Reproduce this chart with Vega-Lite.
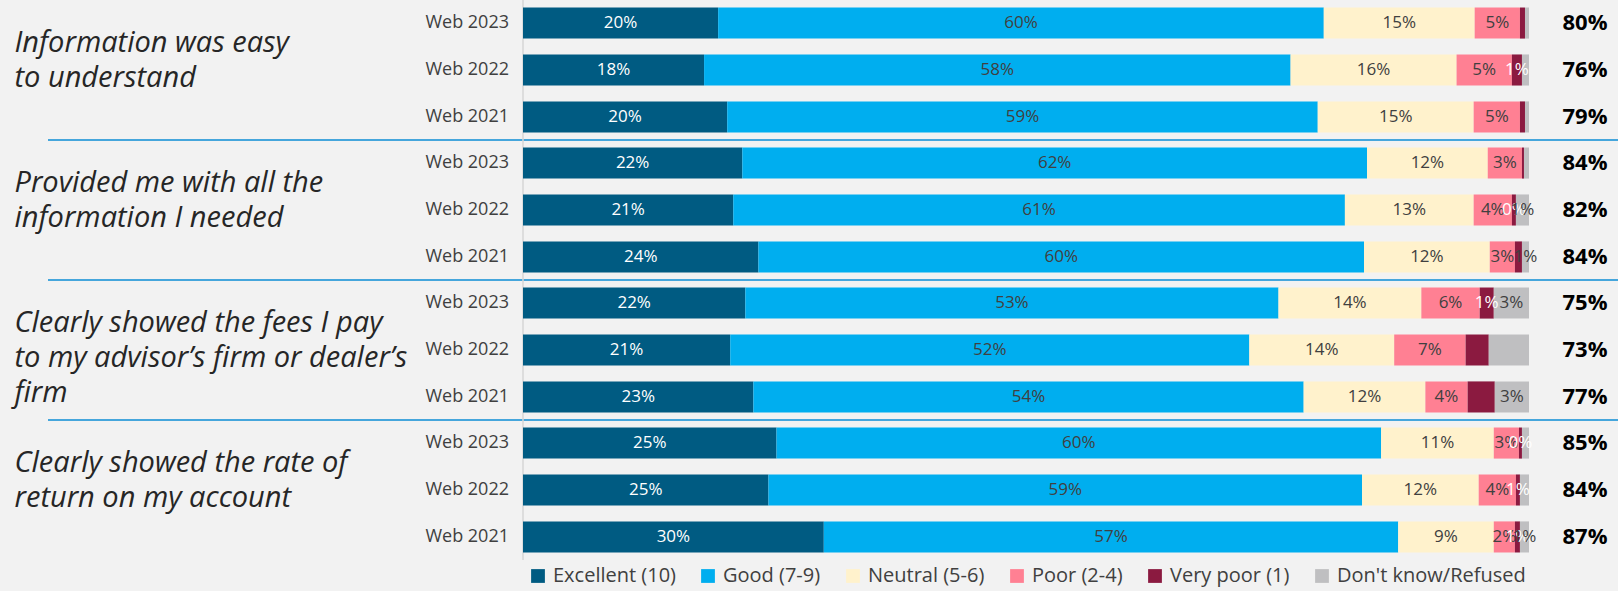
{
  "$schema": "https://vega.github.io/schema/vega-lite/v6.json",
  "width": 1570,
  "height": 560,
  "autosize": {"type": "none"},
  "padding": {"left": 48, "top": 0, "right": 0, "bottom": 31},
  "background": "#f2f2f2",
  "config": {
    "view": {"stroke": null},
    "font": "Open Sans",
    "axis": {"labelFont": "Open Sans"},
    "text": {"font": "Open Sans"},
    "legend": {"labelFont": "Open Sans"}
  },
  "datasets": {
    "segments": [
      {"question": "Information was easy\nto understand", "year": "Web 2023", "category": "Excellent (10)", "k": 1, "value": 19.4, "label": "20%"},
      {"question": "Information was easy\nto understand", "year": "Web 2023", "category": "Good (7-9)", "k": 2, "value": 60.2, "label": "60%"},
      {"question": "Information was easy\nto understand", "year": "Web 2023", "category": "Neutral (5-6)", "k": 3, "value": 15.0, "label": "15%"},
      {"question": "Information was easy\nto understand", "year": "Web 2023", "category": "Poor (2-4)", "k": 4, "value": 4.5, "label": "5%"},
      {"question": "Information was easy\nto understand", "year": "Web 2023", "category": "Very poor (1)", "k": 5, "value": 0.5, "label": ""},
      {"question": "Information was easy\nto understand", "year": "Web 2023", "category": "Don't know/Refused", "k": 6, "value": 0.4, "label": ""},
      {"question": "Information was easy\nto understand", "year": "Web 2022", "category": "Excellent (10)", "k": 1, "value": 18.0, "label": "18%"},
      {"question": "Information was easy\nto understand", "year": "Web 2022", "category": "Good (7-9)", "k": 2, "value": 58.3, "label": "58%"},
      {"question": "Information was easy\nto understand", "year": "Web 2022", "category": "Neutral (5-6)", "k": 3, "value": 16.5, "label": "16%"},
      {"question": "Information was easy\nto understand", "year": "Web 2022", "category": "Poor (2-4)", "k": 4, "value": 5.5, "label": "5%"},
      {"question": "Information was easy\nto understand", "year": "Web 2022", "category": "Very poor (1)", "k": 5, "value": 1.0, "label": "1%"},
      {"question": "Information was easy\nto understand", "year": "Web 2022", "category": "Don't know/Refused", "k": 6, "value": 0.7, "label": ""},
      {"question": "Information was easy\nto understand", "year": "Web 2021", "category": "Excellent (10)", "k": 1, "value": 20.3, "label": "20%"},
      {"question": "Information was easy\nto understand", "year": "Web 2021", "category": "Good (7-9)", "k": 2, "value": 58.7, "label": "59%"},
      {"question": "Information was easy\nto understand", "year": "Web 2021", "category": "Neutral (5-6)", "k": 3, "value": 15.5, "label": "15%"},
      {"question": "Information was easy\nto understand", "year": "Web 2021", "category": "Poor (2-4)", "k": 4, "value": 4.6, "label": "5%"},
      {"question": "Information was easy\nto understand", "year": "Web 2021", "category": "Very poor (1)", "k": 5, "value": 0.5, "label": ""},
      {"question": "Information was easy\nto understand", "year": "Web 2021", "category": "Don't know/Refused", "k": 6, "value": 0.4, "label": ""},

      {"question": "Provided me with all the\ninformation I needed", "year": "Web 2023", "category": "Excellent (10)", "k": 1, "value": 21.8, "label": "22%"},
      {"question": "Provided me with all the\ninformation I needed", "year": "Web 2023", "category": "Good (7-9)", "k": 2, "value": 62.1, "label": "62%"},
      {"question": "Provided me with all the\ninformation I needed", "year": "Web 2023", "category": "Neutral (5-6)", "k": 3, "value": 12.0, "label": "12%"},
      {"question": "Provided me with all the\ninformation I needed", "year": "Web 2023", "category": "Poor (2-4)", "k": 4, "value": 3.4, "label": "3%"},
      {"question": "Provided me with all the\ninformation I needed", "year": "Web 2023", "category": "Very poor (1)", "k": 5, "value": 0.2, "label": ""},
      {"question": "Provided me with all the\ninformation I needed", "year": "Web 2023", "category": "Don't know/Refused", "k": 6, "value": 0.5, "label": ""},
      {"question": "Provided me with all the\ninformation I needed", "year": "Web 2022", "category": "Excellent (10)", "k": 1, "value": 20.9, "label": "21%"},
      {"question": "Provided me with all the\ninformation I needed", "year": "Web 2022", "category": "Good (7-9)", "k": 2, "value": 60.8, "label": "61%"},
      {"question": "Provided me with all the\ninformation I needed", "year": "Web 2022", "category": "Neutral (5-6)", "k": 3, "value": 12.8, "label": "13%"},
      {"question": "Provided me with all the\ninformation I needed", "year": "Web 2022", "category": "Poor (2-4)", "k": 4, "value": 3.8, "label": "4%"},
      {"question": "Provided me with all the\ninformation I needed", "year": "Web 2022", "category": "Very poor (1)", "k": 5, "value": 0.4, "label": "0%"},
      {"question": "Provided me with all the\ninformation I needed", "year": "Web 2022", "category": "Don't know/Refused", "k": 6, "value": 1.3, "label": "1%"},
      {"question": "Provided me with all the\ninformation I needed", "year": "Web 2021", "category": "Excellent (10)", "k": 1, "value": 23.4, "label": "24%"},
      {"question": "Provided me with all the\ninformation I needed", "year": "Web 2021", "category": "Good (7-9)", "k": 2, "value": 60.2, "label": "60%"},
      {"question": "Provided me with all the\ninformation I needed", "year": "Web 2021", "category": "Neutral (5-6)", "k": 3, "value": 12.5, "label": "12%"},
      {"question": "Provided me with all the\ninformation I needed", "year": "Web 2021", "category": "Poor (2-4)", "k": 4, "value": 2.5, "label": "3%"},
      {"question": "Provided me with all the\ninformation I needed", "year": "Web 2021", "category": "Very poor (1)", "k": 5, "value": 0.7, "label": ""},
      {"question": "Provided me with all the\ninformation I needed", "year": "Web 2021", "category": "Don't know/Refused", "k": 6, "value": 0.7, "label": "1%"},

      {"question": "Clearly showed the fees I pay\nto my advisor’s firm or dealer’s\nfirm", "year": "Web 2023", "category": "Excellent (10)", "k": 1, "value": 22.1, "label": "22%"},
      {"question": "Clearly showed the fees I pay\nto my advisor’s firm or dealer’s\nfirm", "year": "Web 2023", "category": "Good (7-9)", "k": 2, "value": 53.0, "label": "53%"},
      {"question": "Clearly showed the fees I pay\nto my advisor’s firm or dealer’s\nfirm", "year": "Web 2023", "category": "Neutral (5-6)", "k": 3, "value": 14.2, "label": "14%"},
      {"question": "Clearly showed the fees I pay\nto my advisor’s firm or dealer’s\nfirm", "year": "Web 2023", "category": "Poor (2-4)", "k": 4, "value": 5.8, "label": "6%"},
      {"question": "Clearly showed the fees I pay\nto my advisor’s firm or dealer’s\nfirm", "year": "Web 2023", "category": "Very poor (1)", "k": 5, "value": 1.4, "label": "1%"},
      {"question": "Clearly showed the fees I pay\nto my advisor’s firm or dealer’s\nfirm", "year": "Web 2023", "category": "Don't know/Refused", "k": 6, "value": 3.5, "label": "3%"},
      {"question": "Clearly showed the fees I pay\nto my advisor’s firm or dealer’s\nfirm", "year": "Web 2022", "category": "Excellent (10)", "k": 1, "value": 20.6, "label": "21%"},
      {"question": "Clearly showed the fees I pay\nto my advisor’s firm or dealer’s\nfirm", "year": "Web 2022", "category": "Good (7-9)", "k": 2, "value": 51.6, "label": "52%"},
      {"question": "Clearly showed the fees I pay\nto my advisor’s firm or dealer’s\nfirm", "year": "Web 2022", "category": "Neutral (5-6)", "k": 3, "value": 14.4, "label": "14%"},
      {"question": "Clearly showed the fees I pay\nto my advisor’s firm or dealer’s\nfirm", "year": "Web 2022", "category": "Poor (2-4)", "k": 4, "value": 7.1, "label": "7%"},
      {"question": "Clearly showed the fees I pay\nto my advisor’s firm or dealer’s\nfirm", "year": "Web 2022", "category": "Very poor (1)", "k": 5, "value": 2.3, "label": ""},
      {"question": "Clearly showed the fees I pay\nto my advisor’s firm or dealer’s\nfirm", "year": "Web 2022", "category": "Don't know/Refused", "k": 6, "value": 4.0, "label": ""},
      {"question": "Clearly showed the fees I pay\nto my advisor’s firm or dealer’s\nfirm", "year": "Web 2021", "category": "Excellent (10)", "k": 1, "value": 22.9, "label": "23%"},
      {"question": "Clearly showed the fees I pay\nto my advisor’s firm or dealer’s\nfirm", "year": "Web 2021", "category": "Good (7-9)", "k": 2, "value": 54.7, "label": "54%"},
      {"question": "Clearly showed the fees I pay\nto my advisor’s firm or dealer’s\nfirm", "year": "Web 2021", "category": "Neutral (5-6)", "k": 3, "value": 12.1, "label": "12%"},
      {"question": "Clearly showed the fees I pay\nto my advisor’s firm or dealer’s\nfirm", "year": "Web 2021", "category": "Poor (2-4)", "k": 4, "value": 4.2, "label": "4%"},
      {"question": "Clearly showed the fees I pay\nto my advisor’s firm or dealer’s\nfirm", "year": "Web 2021", "category": "Very poor (1)", "k": 5, "value": 2.7, "label": ""},
      {"question": "Clearly showed the fees I pay\nto my advisor’s firm or dealer’s\nfirm", "year": "Web 2021", "category": "Don't know/Refused", "k": 6, "value": 3.4, "label": "3%"},

      {"question": "Clearly showed the rate of\nreturn on my account", "year": "Web 2023", "category": "Excellent (10)", "k": 1, "value": 25.2, "label": "25%"},
      {"question": "Clearly showed the rate of\nreturn on my account", "year": "Web 2023", "category": "Good (7-9)", "k": 2, "value": 60.1, "label": "60%"},
      {"question": "Clearly showed the rate of\nreturn on my account", "year": "Web 2023", "category": "Neutral (5-6)", "k": 3, "value": 11.2, "label": "11%"},
      {"question": "Clearly showed the rate of\nreturn on my account", "year": "Web 2023", "category": "Poor (2-4)", "k": 4, "value": 2.5, "label": "3%"},
      {"question": "Clearly showed the rate of\nreturn on my account", "year": "Web 2023", "category": "Very poor (1)", "k": 5, "value": 0.3, "label": "0%"},
      {"question": "Clearly showed the rate of\nreturn on my account", "year": "Web 2023", "category": "Don't know/Refused", "k": 6, "value": 0.7, "label": ""},
      {"question": "Clearly showed the rate of\nreturn on my account", "year": "Web 2022", "category": "Excellent (10)", "k": 1, "value": 24.4, "label": "25%"},
      {"question": "Clearly showed the rate of\nreturn on my account", "year": "Web 2022", "category": "Good (7-9)", "k": 2, "value": 59.0, "label": "59%"},
      {"question": "Clearly showed the rate of\nreturn on my account", "year": "Web 2022", "category": "Neutral (5-6)", "k": 3, "value": 11.6, "label": "12%"},
      {"question": "Clearly showed the rate of\nreturn on my account", "year": "Web 2022", "category": "Poor (2-4)", "k": 4, "value": 3.7, "label": "4%"},
      {"question": "Clearly showed the rate of\nreturn on my account", "year": "Web 2022", "category": "Very poor (1)", "k": 5, "value": 0.4, "label": "1%"},
      {"question": "Clearly showed the rate of\nreturn on my account", "year": "Web 2022", "category": "Don't know/Refused", "k": 6, "value": 0.9, "label": ""},
      {"question": "Clearly showed the rate of\nreturn on my account", "year": "Web 2021", "category": "Excellent (10)", "k": 1, "value": 29.9, "label": "30%"},
      {"question": "Clearly showed the rate of\nreturn on my account", "year": "Web 2021", "category": "Good (7-9)", "k": 2, "value": 57.1, "label": "57%"},
      {"question": "Clearly showed the rate of\nreturn on my account", "year": "Web 2021", "category": "Neutral (5-6)", "k": 3, "value": 9.5, "label": "9%"},
      {"question": "Clearly showed the rate of\nreturn on my account", "year": "Web 2021", "category": "Poor (2-4)", "k": 4, "value": 2.1, "label": "2%"},
      {"question": "Clearly showed the rate of\nreturn on my account", "year": "Web 2021", "category": "Very poor (1)", "k": 5, "value": 0.5, "label": "1%"},
      {"question": "Clearly showed the rate of\nreturn on my account", "year": "Web 2021", "category": "Don't know/Refused", "k": 6, "value": 0.9, "label": "1%"}
    ],
    "totals": [
      {"question": "Information was easy\nto understand", "year": "Web 2023", "total": "80%"},
      {"question": "Information was easy\nto understand", "year": "Web 2022", "total": "76%"},
      {"question": "Information was easy\nto understand", "year": "Web 2021", "total": "79%"},
      {"question": "Provided me with all the\ninformation I needed", "year": "Web 2023", "total": "84%"},
      {"question": "Provided me with all the\ninformation I needed", "year": "Web 2022", "total": "82%"},
      {"question": "Provided me with all the\ninformation I needed", "year": "Web 2021", "total": "84%"},
      {"question": "Clearly showed the fees I pay\nto my advisor’s firm or dealer’s\nfirm", "year": "Web 2023", "total": "75%"},
      {"question": "Clearly showed the fees I pay\nto my advisor’s firm or dealer’s\nfirm", "year": "Web 2022", "total": "73%"},
      {"question": "Clearly showed the fees I pay\nto my advisor’s firm or dealer’s\nfirm", "year": "Web 2021", "total": "77%"},
      {"question": "Clearly showed the rate of\nreturn on my account", "year": "Web 2023", "total": "85%"},
      {"question": "Clearly showed the rate of\nreturn on my account", "year": "Web 2022", "total": "84%"},
      {"question": "Clearly showed the rate of\nreturn on my account", "year": "Web 2021", "total": "87%"}
    ]
  },
  "layer": [
    {
      "data": {"name": "totals"},
      "transform": [
        {"filter": "datum.year === 'Web 2023' && datum.question !== 'Information was easy\\nto understand'"}
      ],
      "mark": {"type": "rule", "color": "#45a6dc", "strokeWidth": 2},
      "encoding": {
        "y": {
          "field": "question", "type": "nominal", "bandPosition": 0,
          "scale": {
            "domain": [
              "Information was easy\nto understand",
              "Provided me with all the\ninformation I needed",
              "Clearly showed the fees I pay\nto my advisor’s firm or dealer’s\nfirm",
              "Clearly showed the rate of\nreturn on my account"
            ],
            "paddingInner": 0, "paddingOuter": 0
          }
        }
      }
    },
    {
      "data": {"name": "totals"},
      "transform": [{"filter": "datum.year === 'Web 2023' && datum.question === 'Information was easy\\nto understand'"}],
      "mark": {"type": "rule", "color": "#d6d6d6", "strokeWidth": 1.5},
      "encoding": {
        "x": {"datum": 0, "type": "quantitative", "scale": {"domain": [0, 100], "range": [475, 1481]}, "axis": null}
      }
    },
    {
      "data": {"name": "segments"},
      "mark": {"type": "bar"},
      "encoding": {
        "y": {
          "field": "question", "type": "nominal",
          "axis": {
            "orient": "left", "title": null, "ticks": false, "domain": false, "grid": false,
            "labelAlign": "left", "labelBaseline": "middle", "labelPadding": 34,
            "labelFontSize": 29, "labelFontStyle": "italic", "labelColor": "#262626",
            "labelLineHeight": 35, "labelLimit": 600, "labelOffset": -27,
            "labelExpr": "split(datum.label, '\\n')"
          }
        },
        "yOffset": {"field": "year", "type": "nominal", "scale": {"domain": ["Web 2023", "Web 2022", "Web 2021"], "paddingInner": 0.338, "paddingOuter": 0.16}},
        "x": {"field": "value", "type": "quantitative", "stack": "zero", "axis": null},
        "order": {"field": "k", "type": "quantitative"},
        "color": {
          "field": "category", "type": "nominal",
          "scale": {
            "domain": ["Excellent (10)", "Good (7-9)", "Neutral (5-6)", "Poor (2-4)", "Very poor (1)", "Don't know/Refused"],
            "range": ["#005b82", "#00aeef", "#fff2cc", "#ff8093", "#8b1a40", "#bfbfc1"]
          },
          "legend": {
            "title": null, "orient": "none", "direction": "horizontal",
            "legendX": 480, "legendY": 566, "padding": 0,
            "symbolType": "square", "symbolSize": 190, "symbolStrokeWidth": 0,
            "labelFontSize": 20, "labelColor": "#404040", "labelLimit": 0,
            "labelOffset": 5, "columnPadding": 22
          }
        }
      }
    },
    {
      "data": {"name": "segments"},
      "mark": {"type": "text", "fontSize": 17, "baseline": "middle", "align": "center"},
      "encoding": {
        "y": {"field": "question", "type": "nominal"},
        "yOffset": {"field": "year", "type": "nominal"},
        "x": {"field": "value", "type": "quantitative", "stack": "zero", "bandPosition": 0.5},
        "order": {"field": "k", "type": "quantitative"},
        "detail": {"field": "category", "type": "nominal"},
        "text": {"field": "label"},
        "color": {
          "condition": {"test": "datum.category === 'Excellent (10)' || datum.category === 'Very poor (1)'", "value": "#ffffff"},
          "value": "#404040"
        }
      }
    },
    {
      "data": {"name": "totals"},
      "mark": {"type": "text", "fontSize": 18, "baseline": "middle", "align": "right", "dx": -14, "color": "#404040"},
      "encoding": {
        "y": {"field": "question", "type": "nominal"},
        "yOffset": {"field": "year", "type": "nominal"},
        "x": {"datum": 0, "type": "quantitative"},
        "text": {"field": "year"}
      }
    },
    {
      "data": {"name": "totals"},
      "mark": {"type": "text", "fontSize": 22, "fontWeight": "bold", "baseline": "middle", "align": "center", "dx": 56, "color": "#000000"},
      "encoding": {
        "y": {"field": "question", "type": "nominal"},
        "yOffset": {"field": "year", "type": "nominal"},
        "x": {"datum": 100, "type": "quantitative"},
        "text": {"field": "total"}
      }
    }
  ]
}
